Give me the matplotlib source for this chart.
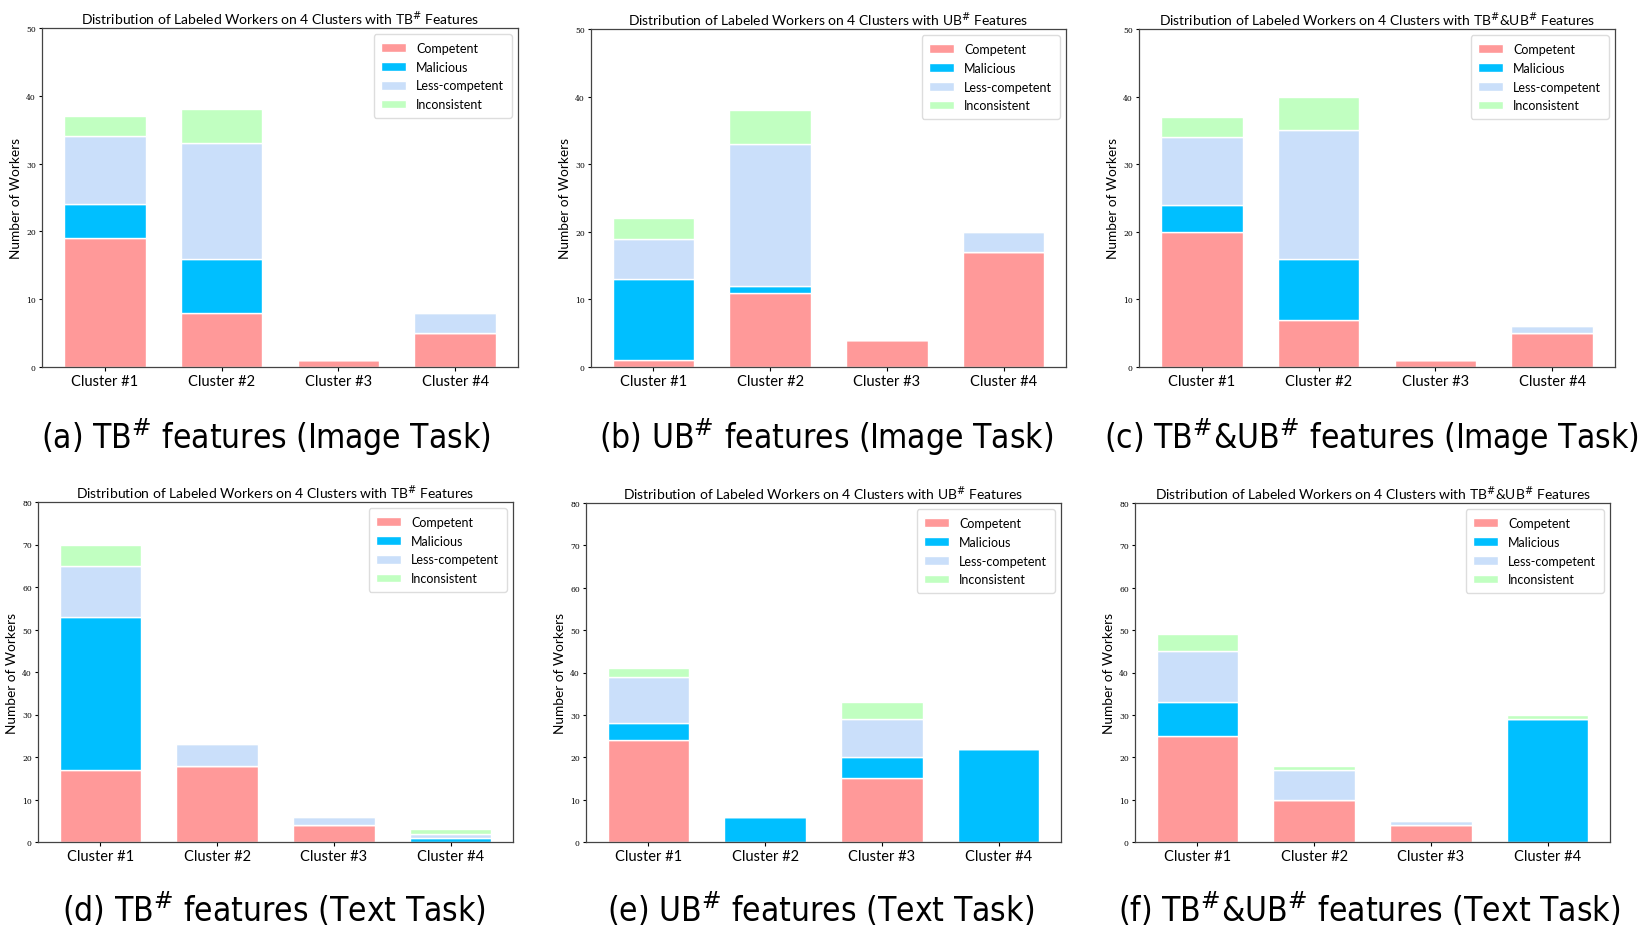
import matplotlib
matplotlib.use("Agg")
import matplotlib.pyplot as plt
import numpy as np

clusters = ["Cluster #1", "Cluster #2", "Cluster #3", "Cluster #4"]
categories = ["Competent", "Malicious", "Less-competent", "Inconsistent"]
colors = ["#FF9999", "#00BFFF", "#CADFFA", "#C1FFC1"]

# (a) TB# image
a_competent = [19, 8, 1, 5]
a_malicious = [5, 8, 0, 0]
a_less = [10, 17, 0, 3]
a_incons = [3, 5, 0, 0]
# (b) UB# image
b_competent = [1, 11, 4, 17]
b_malicious = [12, 1, 0, 0]
b_less = [6, 21, 0, 3]
b_incons = [3, 5, 0, 0]
# (c) TB#&UB# image
c_competent = [20, 7, 1, 5]
c_malicious = [4, 9, 0, 0]
c_less = [10, 19, 0, 1]
c_incons = [3, 5, 0, 0]
# (d) TB# text
d_competent = [17, 18, 4, 0]
d_malicious = [36, 0, 0, 1]
d_less = [12, 5, 2, 1]
d_incons = [5, 0, 0, 1]
# (e) UB# text
e_competent = [24, 0, 15, 0]
e_malicious = [4, 6, 5, 22]
e_less = [11, 0, 9, 0]
e_incons = [2, 0, 4, 0]
# (f) TB#&UB# text
f_competent = [25, 10, 4, 0]
f_malicious = [8, 0, 0, 29]
f_less = [12, 7, 1, 0]
f_incons = [4, 1, 0, 1]

titles = [
    r"Distribution of Labeled Workers on 4 Clusters with TB$^{\#}$ Features",
    r"Distribution of Labeled Workers on 4 Clusters with UB$^{\#}$ Features",
    r"Distribution of Labeled Workers on 4 Clusters with TB$^{\#}$&UB$^{\#}$ Features",
]
captions = [
    r"(a) TB$^{\#}$ features (Image Task)",
    r"(b) UB$^{\#}$ features (Image Task)",
    r"(c) TB$^{\#}$&UB$^{\#}$ features (Image Task)",
    r"(d) TB$^{\#}$ features (Text Task)",
    r"(e) UB$^{\#}$ features (Text Task)",
    r"(f) TB$^{\#}$&UB$^{\#}$ features (Text Task)",
]

panels = [
    (a_competent, a_malicious, a_less, a_incons),
    (b_competent, b_malicious, b_less, b_incons),
    (c_competent, c_malicious, c_less, c_incons),
    (d_competent, d_malicious, d_less, d_incons),
    (e_competent, e_malicious, e_less, e_incons),
    (f_competent, f_malicious, f_less, f_incons),
]

W, H = 1644, 929
fig = plt.figure(figsize=(W / 100, H / 100), dpi=100)
plt.rcParams['mathtext.fontset'] = 'dejavusans'

# pixel boxes (left, right, top, bottom)
boxes = [
    (42, 518, 29, 368), (591, 1066, 30, 368), (1139, 1615, 30, 368),
    (38, 513, 503, 843), (586, 1061, 504, 843), (1135, 1610, 504, 843),
]
cap_pos = [(266, 437), (826, 437), (1371, 437), (274, 910), (821, 910), (1369, 910)]

for i, (series, box) in enumerate(zip(panels, boxes)):
    l, r, t, b = box
    ax = fig.add_axes([l / W, 1 - b / H, (r - l) / W, (b - t) / H])
    x = np.arange(len(clusters))
    bottom = np.zeros(len(clusters))
    for vals, cat, col in zip(series, categories, colors):
        ax.bar(x, vals, 0.7, bottom=bottom, color=col, edgecolor="white",
               linewidth=1.0, label=cat)
        bottom += np.array(vals)
    ymax = 50 if i < 3 else 80
    ax.set_ylim(0, ymax)
    ax.set_yticks(np.arange(0, ymax + 1, 10))
    ax.set_xticks(x)
    ax.set_xticklabels(clusters, fontsize=10.5, family="Lato")
    ax.tick_params(axis="y", labelsize=5.5, length=2.5, pad=2)
    ax.tick_params(axis="x", length=3, pad=2)
    for lab in ax.get_yticklabels():
        lab.set_family("DejaVu Serif")
    ax.set_ylabel("Number of Workers", fontsize=9.8, family="Lato", labelpad=3)
    ax.set_title(titles[i % 3], fontsize=10, family="Lato", pad=3)
    for s in ax.spines.values():
        s.set_color("#444444")
        s.set_linewidth(0.9)
    ax.legend(loc="upper right", prop={"family": "Lato", "size": 9},
              handlelength=2.0, handleheight=0.7, borderpad=0.6, labelspacing=0.55,
              framealpha=1, edgecolor="#dddddd", fancybox=True)
    cx, cy = cap_pos[i]
    fig.text(cx / W, 1 - cy / H, captions[i], ha="center", va="center",
             fontsize=24, family="DejaVu Sans", stretch="condensed")

fig.savefig("out.png", dpi=100)
